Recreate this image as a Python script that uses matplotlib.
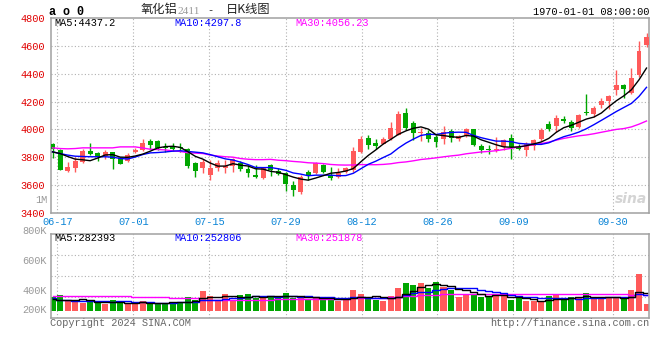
import matplotlib
matplotlib.use('Agg')
import matplotlib.pyplot as plt
import numpy as np
import pandas as pd

# ---------------- data ----------------
opens = [3893, 3855, 3700, 3719, 3764, 3843, 3829, 3807, 3836, 3795,
         3772, 3836, 3848, 3914, 3914, 3874, 3876, 3876, 3862, 3755,
         3724, 3671, 3724, 3724, 3738, 3760, 3714, 3672, 3648, 3743,
         3700, 3683, 3600, 3548, 3691, 3683, 3743, 3672, 3660, 3695,
         3707, 3838, 3938, 3905, 3898, 3933, 3962, 4119, 4048, 3974,
         3976, 3945, 3929, 3986, 3929, 3952, 4005, 3881, 3861, 3854,
         3873, 3939, 3873, 3854, 3883, 3932, 4039, 4027, 4075, 4056,
         4015, 4122, 4110, 4177, 4201, 4284, 4317, 4265, 4391, 4609]
highs = [3900, 3862, 3767, 3803, 3862, 3905, 3838, 3848, 3840, 3800,
         3829, 3867, 3929, 3929, 3920, 3900, 3900, 3900, 3869, 3767,
         3786, 3779, 3779, 3779, 3795, 3772, 3743, 3743, 3731, 3750,
         3719, 3695, 3629, 3672, 3707, 3762, 3750, 3731, 3719, 3731,
         3870, 3952, 3957, 3933, 3945, 4052, 4129, 4152, 4057, 4010,
         3993, 3962, 4024, 4005, 3962, 4010, 4005, 3898, 3885, 3944,
         3932, 3968, 3892, 3909, 3932, 4011, 4058, 4106, 4096, 4068,
         4110, 4253, 4170, 4229, 4248, 4431, 4324, 4443, 4633, 4692]
lows = [3795, 3705, 3691, 3691, 3755, 3819, 3772, 3786, 3714, 3748,
        3767, 3829, 3843, 3862, 3850, 3838, 3843, 3838, 3724, 3657,
        3683, 3636, 3700, 3683, 3695, 3700, 3657, 3648, 3645, 3667,
        3672, 3557, 3522, 3534, 3636, 3679, 3683, 3634, 3653, 3683,
        3690, 3831, 3857, 3862, 3893, 3926, 3957, 3993, 3922, 3914,
        3907, 3874, 3898, 3910, 3917, 3945, 3881, 3833, 3821, 3837,
        3849, 3790, 3849, 3807, 3849, 3916, 3987, 3980, 4049, 3987,
        4011, 4106, 4091, 4153, 4146, 4246, 4224, 4253, 4379, 4590]
closes = [3860, 3707, 3726, 3772, 3841, 3826, 3803, 3836, 3786, 3750,
          3819, 3850, 3905, 3891, 3867, 3867, 3862, 3864, 3736, 3700,
          3767, 3719, 3755, 3738, 3786, 3714, 3688, 3655, 3726, 3707,
          3679, 3607, 3564, 3655, 3667, 3755, 3691, 3653, 3683, 3719,
          3843, 3933, 3886, 3881, 3933, 4010, 4112, 4010, 3976, 3981,
          3929, 3910, 3981, 3938, 3952, 4000, 3886, 3850, 3849, 3861,
          3925, 3873, 3861, 3892, 3925, 3996, 4001, 4082, 4058, 4011,
          4106, 4115, 4153, 4205, 4243, 4317, 4293, 4371, 4561, 4666]
volumes_k = [223, 250, 152, 174, 130, 157, 136, 103, 179, 125,
             103, 114, 163, 147, 103, 125, 147, 147, 217, 179,
             326, 244, 179, 277, 168, 255, 277, 201, 212, 244,
             244, 293, 201, 212, 179, 223, 201, 185, 160, 175,
             340, 277, 195, 182, 160, 233, 370, 456, 424, 456,
             375, 472, 388, 345, 228, 253, 280, 228, 239, 250,
             244, 179, 201, 163, 152, 136, 233, 266, 206, 223,
             201, 293, 228, 206, 206, 201, 190, 331, 592, 114]
volumes = [v * 1000 for v in volumes_k]

# moving-average values visible at the left edge (need history before the chart)
ma5_head = [3838, 3826, 3805, 3786]
ma10_head = [3838, 3826, 3815, 3807, 3805, 3803, 3803, 3803, 3800]
ma30_head = [3867, 3862, 3860, 3862, 3867, 3867, 3867, 3867, 3867, 3874,
             3874, 3874, 3866, 3857, 3855, 3852, 3845, 3841, 3832, 3829,
             3826, 3815, 3808, 3803, 3800, 3790, 3785, 3782, 3782]
vma5_head = [185e3, 180e3, 176e3, 174e3]
vma10_head = [200e3, 180e3, 172e3, 160e3, 155e3, 150e3, 150e3, 150e3, 148e3]
vma30_head = [244e3] * 11 + [223e3] * 5 + [201e3] * 4 + [181e3] * 9

xtick_labels = ['06-17', '07-01', '07-15', '07-29', '08-12', '08-26', '09-09', '09-30']
xtick_pos = [0.64, 10.75, 20.85, 31.0, 41.1, 51.2, 61.3, 74.5]
price_ticks = [3400, 3600, 3800, 4000, 4200, 4400, 4600, 4800]

legend_main = ['MA5:4437.2', 'MA10:4297.8', 'MA30:4056.23']
legend_vol = ['MA5:282393', 'MA10:252806', 'MA30:251878']
vol_labels = ['800K', '600K', '400K', '200K']


def moving_avg(vals, n, head):
    s = pd.Series(vals, dtype=float).rolling(n).mean().to_numpy()
    s[:n - 1] = head
    return s

# ---------------- figure ----------------
W, H = 660, 360
fig = plt.figure(figsize=(W / 100, H / 100), dpi=100)
MONO = 'Liberation Mono'
FS = 7.4
RED = '#ff5a5a'
GREEN = '#00a600'
GRID = '#b0b0b0'
BORDER = '#a0a0a0'


def rect(l, t, r, b):
    return [l / W, 1 - b / H, (r - l) / W, (b - t) / H]


def ftext(x, y, s, **kw):
    kw.setdefault('family', MONO)
    kw.setdefault('fontsize', FS)
    kw.setdefault('va', 'center')
    fig.text(x / W, 1 - y / H, s, **kw)


ax = fig.add_axes(rect(50.7, 18.3, 649.3, 212.7))
axv = fig.add_axes(rect(50.7, 234.3, 649.3, 317.7))

n = len(closes)
x = np.arange(n)
o = np.array(opens, float)
c = np.array(closes, float)
hi = np.array(highs, float)
lo = np.array(lows, float)
up = c >= o
cols = np.where(up, RED, GREEN)

for a in (ax, axv):
    a.set_xlim(-0.24, 79.37)
    for sp in a.spines.values():
        sp.set_color(BORDER)
        sp.set_linewidth(1.1)
    a.set_xticks(xtick_pos)
    a.grid(True, axis='x', color=GRID, linestyle=(0, (1, 2)), linewidth=0.8)
    a.set_axisbelow(True)

# main grid
ax.set_ylim(3400, 4800)
for yv in price_ticks[1:-1]:
    ax.axhline(yv, color=GRID, linestyle=(0, (1, 2)), linewidth=0.8, zorder=0)
ax.set_yticks(price_ticks)
ax.set_yticklabels([str(t) for t in price_ticks], family=MONO, fontsize=FS, color='#e00000')
ax.tick_params(axis='y', length=0, pad=4)
ax.set_xticklabels(xtick_labels, family=MONO, fontsize=FS, color='#0a84d6')
ax.tick_params(axis='x', length=0, pad=3)

# candles
ax.vlines(x, lo, hi, colors=cols, linewidth=1.0, zorder=2)
body_h = np.maximum(np.abs(c - o), 5)
ax.bar(x, body_h, bottom=np.minimum(o, c), width=0.66, color=cols, linewidth=0, zorder=3)

ma5 = moving_avg(closes, 5, ma5_head)
ma10 = moving_avg(closes, 10, ma10_head)
ma30 = moving_avg(closes, 30, ma30_head)
ax.plot(x, ma30, color='#ff00ff', lw=1.0, zorder=4)
ax.plot(x, ma10, color='#0000ff', lw=1.0, zorder=4)
ax.plot(x, ma5, color='black', lw=1.0, zorder=4)

# volume: bars rise from 0 a few pixels above the panel bottom
px_per_unit = 1 / 16300.0
vbot = -(317.7 - 310.7) / px_per_unit
vtop = (310.7 - 234.3) / px_per_unit
axv.set_ylim(vbot, vtop)
for fr in (0.25, 0.5, 0.75):
    axv.axhline(vbot + (vtop - vbot) * fr, color=GRID, linestyle=(0, (1, 2)), linewidth=0.8, zorder=0)
axv.set_yticks([])
axv.set_xticklabels([])
axv.tick_params(axis='x', length=0)
axv.bar(x, volumes, width=0.8, color=cols, linewidth=0, zorder=2)
vma5 = moving_avg(volumes, 5, vma5_head)
vma10 = moving_avg(volumes, 10, vma10_head)
vma30 = moving_avg(volumes, 30, vma30_head)
axv.plot(x, vma30, color='#ff00ff', lw=1.0, drawstyle='steps-mid', zorder=3)
axv.plot(x, vma10, color='#0000ff', lw=1.0, drawstyle='steps-mid', zorder=3)
axv.plot(x, vma5, color='black', lw=1.0, drawstyle='steps-mid', zorder=3)

# texts
mcolors = ['black', '#0000ff', '#ff00ff']
xs = [54.3, 174.7, 295.0]
for s, xx, cc in zip(legend_main, xs, mcolors):
    ftext(xx, 23.3, s, color=cc)
for s, xx, cc in zip(legend_vol, xs, mcolors):
    ftext(xx, 238.3, s, color=cc)

for s, yy in zip(vol_labels, [231, 261, 291, 310]):
    ftext(47, yy, s, color='#999999', ha='right')
ftext(47, 200, '1M', color='#999999', ha='right')

ftext(49, 12, 'a o 0', weight='bold', fontsize=8.5)
ftext(649.3, 11.7, '1970-01-01 08:00:00', color='black', ha='right')
ftext(140.7, 10, '氧化铝', family=['Noto Sans CJK SC'], fontsize=8.8, color='#222222')
ftext(177, 11.5, '2411', family=['Liberation Serif'], fontsize=8.2, color='#999999')
ftext(207, 10.5, '-', color='#222222')
ftext(226, 10, '日K线图', family=['Noto Sans CJK SC'], fontsize=8.8, color='#222222')

ftext(50, 323, 'Copyright 2024 SINA.COM', color='#666666')
ftext(649.3, 323, 'http://finance.sina.com.cn', color='#666666', ha='right')

# watermark
ftext(631, 199, 'sina', family=['DejaVu Sans'], fontsize=10, weight='bold', style='italic',
      color='#d4d4d4', ha='center')

fig.savefig('out.png', dpi=100)
